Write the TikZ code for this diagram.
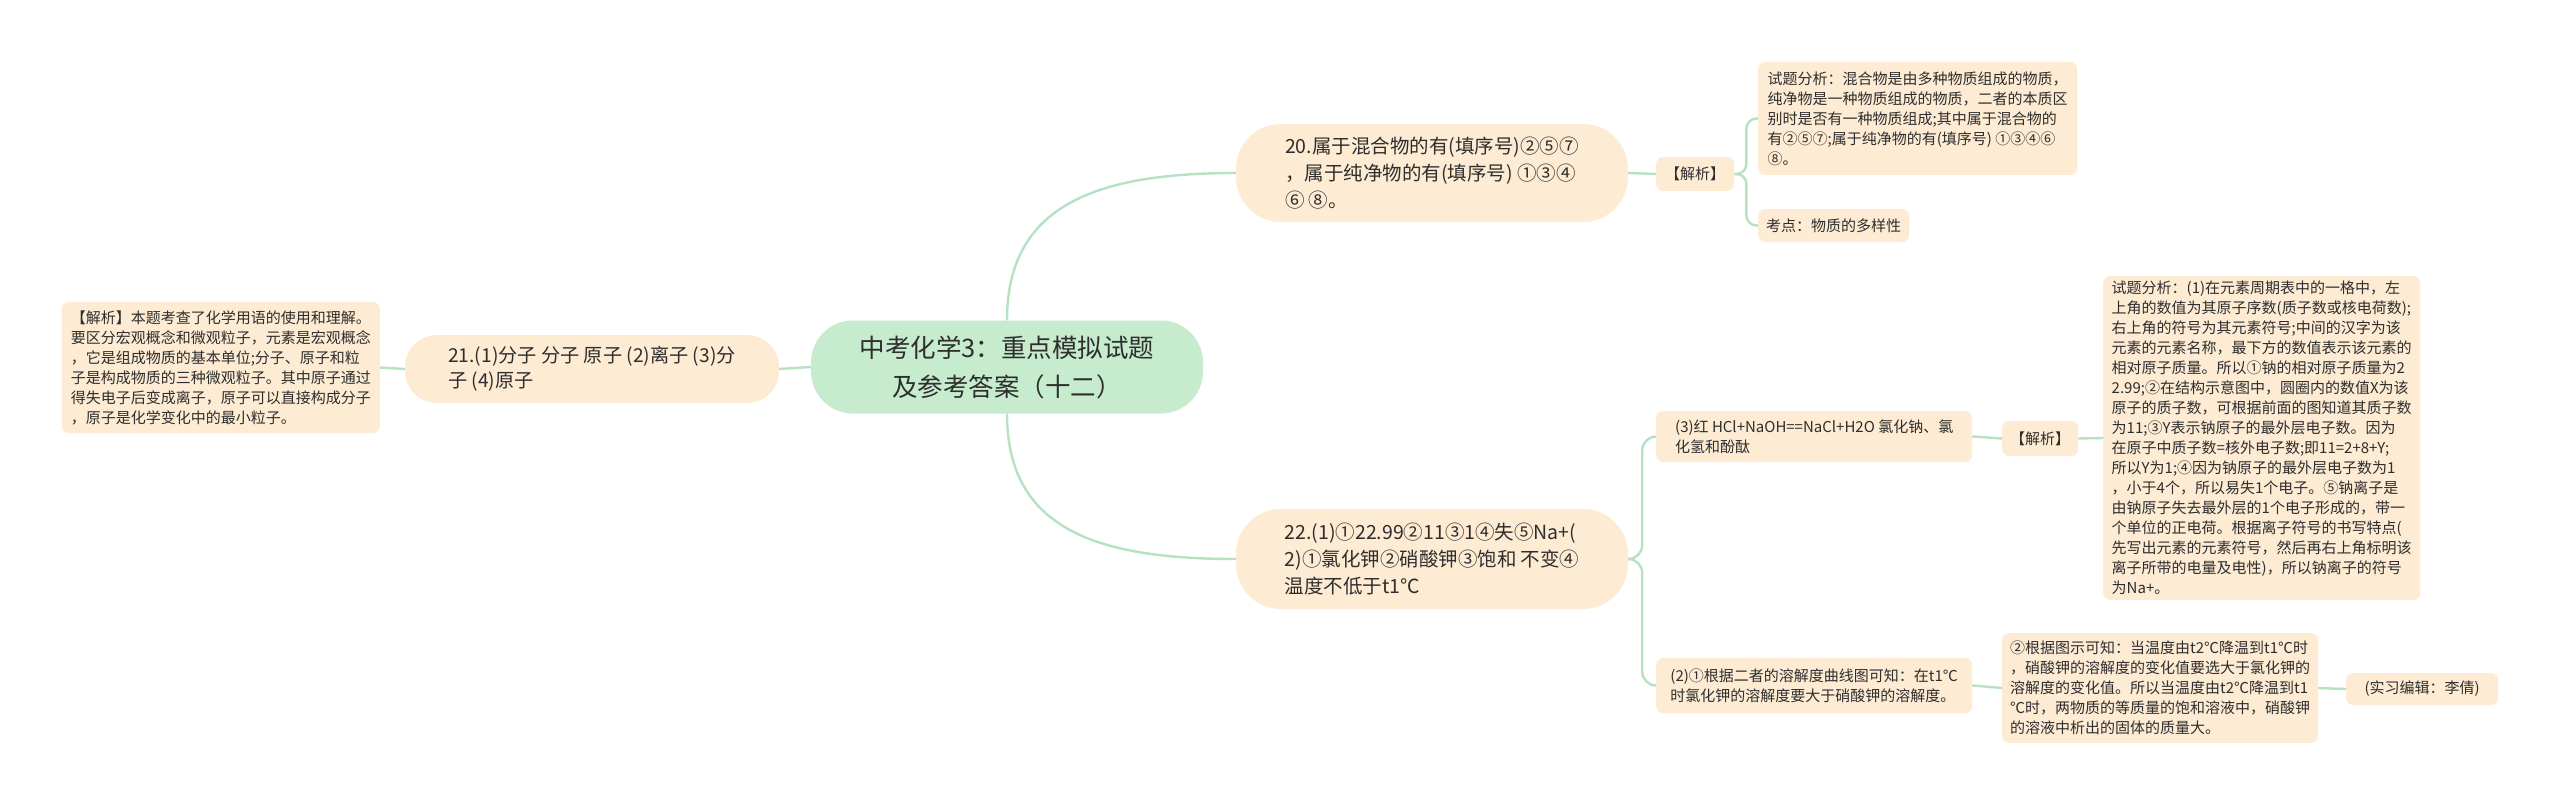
\documentclass[tikz,border=0pt]{standalone}
\usepackage{fontspec}
\setmainfont{Noto Sans CJK SC}
\definecolor{peach}{HTML}{FDEBD3}
\definecolor{rootg}{HTML}{C6EBCD}
\definecolor{linkg}{HTML}{B7E1C3}
\definecolor{txt}{HTML}{2E2E2E}
\tikzset{
  box/.style={fill=peach, rounded corners=7pt, align=left, inner xsep=8pt, inner ysep=5pt, text=txt, font=\fontsize{15}{20}\selectfont},
  pill/.style={fill=peach, rounded corners=45pt, align=left, inner xsep=20pt, text=txt, font=\fontsize{19.5}{27}\selectfont},
  rootbox/.style={fill=rootg, rounded corners=42pt, align=center, inner xsep=20pt, text=txt, font=\fontsize{25.5}{39}\selectfont},
  link/.style={draw=linkg, line width=2.4pt},
}
\begin{document}
\begin{tikzpicture}[x=1pt,y=-1pt]
\fill[white] (0,0) rectangle (2560,808);
\useasboundingbox (0,0) rectangle (2560,808);

\node[rootbox, minimum width=392pt, minimum height=93pt] (root) at (1007,367) {中考化学3：重点模拟试题\\及参考答案（十二）};

\node[pill, minimum width=392pt, minimum height=98pt] (n20) at (1432,173) {20.属于混合物的有(填序号)②⑤⑦\\，属于纯净物的有(填序号) ①③④\\⑥ ⑧。};
\node[box, anchor=west, minimum width=78pt, minimum height=34pt, align=center] (j1) at (1656,174) {【解析】};
\node[box, anchor=west, minimum width=319pt, minimum height=113pt] (a1) at (1758,118.5) {试题分析：混合物是由多种物质组成的物质，\\纯净物是一种物质组成的物质，二者的本质区\\别时是否有一种物质组成;其中属于混合物的\\有②⑤⑦;属于纯净物的有(填序号) ①③④⑥\\⑧。};
\node[box, anchor=west, minimum height=33pt] (k1) at (1758,225.5) {考点：物质的多样性};

\node[pill, rounded corners=32pt, minimum width=374pt, minimum height=68pt, font=\fontsize{19.2}{25}\selectfont] (n21) at (592,369) {21.(1)分子~分子~原子~(2)离子~(3)分\\子 (4)原子};
\node[box, anchor=east, minimum width=318pt, minimum height=131pt] (l) at (380,367.5) {【解析】本题考查了化学用语的使用和理解。\\要区分宏观概念和微观粒子，元素是宏观概念\\，它是组成物质的基本单位;分子、原子和粒\\子是构成物质的三种微观粒子。其中原子通过\\得失电子后变成离子，原子可以直接构成分子\\，原子是化学变化中的最小粒子。};

\node[pill, minimum width=392pt, minimum height=100pt] (n22) at (1432,559) {22.(1)①22.99②11③1④失⑤Na+(\\2)①氯化钾②硝酸钾③饱和 不变④\\温度不低于t1℃};
\node[box, anchor=west, minimum width=316pt, minimum height=51pt] (n3) at (1656,436.5) {(3)红~HCl+NaOH==NaCl+H2O~氯化钠、氯\\化氢和酚酞};
\node[box, anchor=west, minimum width=76pt, minimum height=35pt, align=center] (j2) at (2002,438.5) {【解析】};
\node[box, anchor=west, minimum width=317pt, minimum height=320pt] (a2) at (2103,438) {试题分析：(1)在元素周期表中的一格中，左\\上角的数值为其原子序数(质子数或核电荷数);\\右上角的符号为其元素符号;中间的汉字为该\\元素的元素名称，最下方的数值表示该元素的\\相对原子质量。所以①钠的相对原子质量为2\\2.99;②在结构示意图中，圆圈内的数值X为该\\原子的质子数，可根据前面的图知道其质子数\\为11;③Y表示钠原子的最外层电子数。因为\\在原子中质子数=核外电子数;即11=2+8+Y;\\所以Y为1;④因为钠原子的最外层电子数为1\\，小于4个，所以易失1个电子。⑤钠离子是\\由钠原子失去最外层的1个电子形成的，带一\\个单位的正电荷。根据离子符号的书写特点(\\先写出元素的元素符号，然后再右上角标明该\\离子所带的电量及电性)，所以钠离子的符号\\为Na+。};
\node[box, anchor=west, minimum width=316pt, minimum height=55pt] (n2) at (1656,685.5) {(2)①根据二者的溶解度曲线图可知：在t1℃\\时氯化钾的溶解度要大于硝酸钾的溶解度。};
\node[box, anchor=west, minimum width=316pt, minimum height=110pt] (b2) at (2002,688) {②根据图示可知：当温度由t2℃降温到t1℃时\\，硝酸钾的溶解度的变化值要选大于氯化钾的\\溶解度的变化值。所以当温度由t2℃降温到t1\\℃时，两物质的等质量的饱和溶液中，硝酸钾\\的溶液中析出的固体的质量大。};
\node[box, anchor=west, minimum width=152pt, minimum height=32pt, align=center] (e) at (2346,689) {(实习编辑：李倩)};

\draw[link] (root.north) .. controls +(0,-115) and +(-140,0) .. (n20.west);
\draw[link] (root.south) .. controls +(0,115) and +(-140,0) .. (n22.west);
\draw[link] (root.west) -- (n21.east);
\draw[link] (n21.west) -- (l.east);
\draw[link] (n20.east) -- (j1.west);
\draw[link, rounded corners=10pt] (j1.east) -- ++(12,0) |- (a1.west);
\draw[link, rounded corners=10pt] (j1.east) -- ++(12,0) |- (k1.west);
\draw[link, rounded corners=14pt] (n22.east) -- ++(14,0) |- (n3.west);
\draw[link, rounded corners=14pt] (n22.east) -- ++(14,0) |- (n2.west);
\draw[link] (n3.east) -- (j2.west);
\draw[link] (j2.east) -- (a2.west);
\draw[link] (n2.east) -- (b2.west);
\draw[link] (b2.east) -- (e.west);
\end{tikzpicture}
\end{document}
